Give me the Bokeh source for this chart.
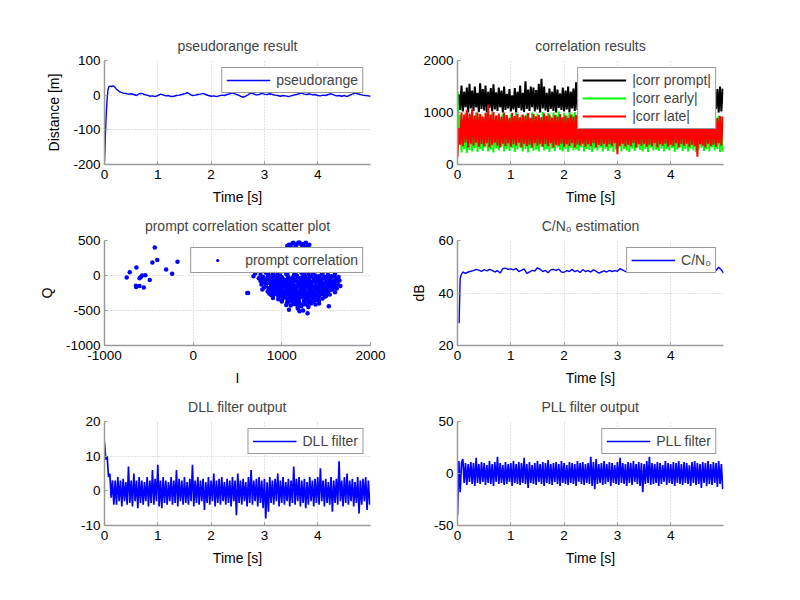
import numpy as np
from bokeh.plotting import figure
from bokeh.layouts import column, row
from bokeh.models import Range1d, FixedTicker, Legend, LegendItem
from bokeh.embed import file_html
from bokeh.resources import INLINE

# ---------------- data ----------------
time_ticks = [0, 1, 2, 3, 4]

pr_t = [0.000, 0.010, 0.020, 0.035, 0.050, 0.065, 0.080, 0.100, 0.130, 0.160, 0.190, 0.220, 0.250, 0.280,
        0.310, 0.350, 0.400, 0.450, 0.500, 0.550, 0.600, 0.650, 0.700, 0.750, 0.800, 0.850, 0.900, 0.950,
        1.000, 1.050, 1.100, 1.150, 1.200, 1.250, 1.300, 1.350, 1.400, 1.450, 1.500, 1.550, 1.600, 1.650,
        1.700, 1.750, 1.800, 1.850, 1.900, 1.950, 2.000, 2.050, 2.100, 2.150, 2.200, 2.250, 2.300, 2.350,
        2.400, 2.450, 2.500, 2.550, 2.600, 2.650, 2.700, 2.750, 2.800, 2.850, 2.900, 2.950, 3.000, 3.050,
        3.100, 3.150, 3.200, 3.250, 3.300, 3.350, 3.400, 3.450, 3.500, 3.550, 3.600, 3.650, 3.700, 3.750,
        3.800, 3.850, 3.900, 3.950, 4.000, 4.050, 4.100, 4.150, 4.200, 4.250, 4.300, 4.350, 4.400, 4.450,
        4.500, 4.550, 4.600, 4.650, 4.700, 4.750, 4.800, 4.850, 4.900, 4.950, 4.990]
pr_val = [-190, -150, -100, -50, -10, 15, 24, 26, 25, 27, 24, 18, 14, 10,
          8, 6, 5, 3, 4, 2, -1, 4, 5, 2, 0, -3, -2, -4,
          -1, 3, 1, -2, -1, -4, -3, -1, 0, 2, 4, 7, 3, -1,
          0, 2, 3, 5, 2, -1, -3, -2, -4, -2, 0, -1, 2, 4,
          7, 4, 1, -3, -6, -3, 2, 6, 4, 1, 2, 5, 3, 2,
          4, 2, 0, -1, -3, -1, -2, -4, -2, 0, 2, 4, 6, 3,
          2, 4, 1, 2, -1, -2, 0, -1, 2, 4, 1, -2, -1, -3,
          -1, -4, 0, 3, 6, 4, 2, 0, -1, -2, -3]

# noisy channels sampled every 25 ms (200 samples)
noise_dt = 0.025

corr_prompt = [
    1000, 1350, 1050, 1520, 1020, 1400, 1100, 1480, 1000, 1550,
    1080, 1420, 1030, 1500, 1100, 1380, 1010, 1560, 1070, 1450,
    1040, 1520, 1000, 1400, 1090, 1470, 1020, 1540, 1060, 1390,
    1030, 1480, 1100, 1420, 1000, 1500, 1050, 1360, 1080, 1450,
    1020, 1330, 1060, 1470, 1000, 1400, 1090, 1520, 1040, 1380,
    1010, 1600, 1070, 1440, 1030, 1500, 1100, 1480, 1020, 1430,
    1060, 1550, 1000, 1650, 1080, 1500, 1040, 1380, 1010, 1460,
    1070, 1400, 1030, 1520, 1000, 1440, 1090, 1370, 1050, 1480,
    1020, 1420, 1060, 1500, 1000, 1400, 1080, 1460, 1030, 1580,
    1050, 1440, 1010, 1520, 1070, 1390, 1000, 1470, 1040, 1430,
    1020, 1480, 1060, 1410, 1000, 1530, 1080, 1450, 1030, 1390,
    1050, 1500, 1010, 1430, 1070, 1470, 1000, 1400, 1040, 1520,
    1020, 1440, 1060, 1380, 1000, 1490, 1080, 1420, 1030, 1460,
    1050, 1400, 1010, 1510, 1070, 1450, 1000, 1380, 1040, 1480,
    1020, 1420, 1060, 1500, 1000, 1440, 1080, 1390, 1030, 1470,
    1050, 1530, 1010, 1410, 1070, 1460, 1000, 1400, 1040, 1500,
    1020, 1440, 1060, 1380, 1000, 1480, 1080, 1420, 1030, 1450,
    1050, 1510, 1010, 1400, 1070, 1460, 1000, 1390, 1040, 1480,
    1020, 1430, 1060, 1500, 1000, 1410, 1080, 1470, 1030, 1440,
    1050, 1400, 1010, 1490, 1070, 1450, 1000, 1500, 1020, 1460]

corr_early = [
    1400, 600, 950, 230, 880, 300, 990, 220, 900, 280,
    960, 250, 870, 320, 1000, 240, 910, 300, 950, 260,
    880, 330, 970, 250, 900, 290, 1000, 230, 860, 310,
    940, 270, 890, 340, 980, 250, 920, 300, 870, 260,
    960, 320, 900, 240, 990, 290, 880, 330, 950, 250,
    910, 300, 970, 230, 880, 320, 1000, 260, 930, 290,
    980, 250, 900, 340, 1010, 270, 940, 300, 990, 240,
    920, 310, 1000, 260, 950, 330, 1020, 280, 900, 250,
    990, 300, 940, 240, 1000, 320, 960, 270, 1010, 290,
    950, 260, 990, 330, 930, 250, 1000, 300, 960, 280,
    1000, 240, 920, 310, 980, 270, 900, 330, 950, 250,
    890, 300, 960, 260, 910, 320, 970, 240, 880, 290,
    940, 330, 900, 250, 970, 300, 880, 270, 950, 240,
    910, 310, 960, 260, 890, 320, 940, 280, 900, 250,
    950, 300, 880, 240, 960, 330, 910, 270, 940, 290,
    890, 260, 950, 310, 900, 250, 960, 300, 880, 270,
    940, 320, 910, 240, 950, 290, 890, 330, 960, 260,
    900, 300, 940, 250, 880, 310, 950, 270, 910, 240,
    960, 290, 890, 320, 940, 260, 900, 300, 950, 250,
    910, 330, 960, 270, 890, 300, 940, 240, 920, 250]

corr_late = [
    150, 700, 380, 1000, 350, 960, 420, 1050, 330, 980,
    400, 1060, 360, 940, 420, 1000, 340, 970, 390, 920,
    350, 990, 410, 1150, 330, 960, 380, 1010, 420, 940,
    360, 980, 330, 920, 400, 1000, 350, 950, 410, 900,
    340, 990, 390, 930, 360, 970, 420, 910, 330, 960,
    400, 940, 350, 990, 380, 900, 330, 970, 410, 920,
    360, 950, 400, 910, 340, 980, 390, 930, 350, 960,
    410, 900, 330, 950, 380, 920, 360, 970, 400, 910,
    340, 940, 390, 900, 350, 960, 410, 920, 330, 950,
    380, 910, 360, 940, 400, 900, 340, 930, 390, 960,
    350, 920, 410, 890, 330, 950, 380, 910, 360, 940,
    400, 900, 340, 930, 390, 880, 350, 920, 410, 950,
    200, 910, 360, 940, 400, 890, 340, 930, 380, 900,
    350, 950, 410, 910, 330, 940, 390, 900, 360, 930,
    400, 890, 340, 920, 380, 950, 350, 910, 410, 940,
    330, 900, 390, 930, 360, 890, 400, 950, 340, 920,
    380, 910, 350, 940, 410, 900, 330, 930, 390, 960,
    360, 920, 400, 890, 340, 950, 380, 910, 350, 940,
    150, 930, 390, 900, 360, 940, 330, 920, 400, 950,
    350, 910, 380, 940, 340, 900, 410, 930, 360, 920]

dll_out = [
    14, 9, 10, 4, 5, -2, 3, -4,
    3, -4, 4, -3, 3, -4.5, 3.5, -3, 2.5, -4, 7, -3.5, 3, -4.5, 5, -3, 3, -5, 4, -3.5,
    3, -4, 2.5, -3, 4, -4.5, 3, -3.5, 6, -4, 3.5, -3, 7.5, -4.5, 3, -5, 4, -3.5, 3, -4,
    2.5, -3, 4, -4, 3, -3.5, 6, -4.5, 3.5, -3, 3, -4, 4, -3.5, 2.5, -4, 3.5, -3, 7.5, -4.5,
    3, -3.5, 4, -4, 3, -3, 3.5, -5.5, 2.5, -3.5, 4, -4, 3, -3, 5, -4.5, 3, -3.5, 3.5, -4,
    4, -3, 2.5, -4, 3.5, -3.5, 3, -4.5, 4, -3, 3, -7, 5, -3.5, 3, -4, 3.5, -3, 2.5, -4.5,
    4, -3.5, 6, -4, 3, -3, 3.5, -4.5, 4, -3.5, 3, -5, 3.5, -8, 2.5, -6, 4, -3.5, 3, -4,
    3.5, -3, 5, -4.5, 3, -3.5, 4, -4, 2.5, -3, 3.5, -4.5, 3, -3.5, 7, -4, 3.5, -3, 4, -4.5,
    3, -3.5, 3.5, -5, 2.5, -4, 4, -3, 3, -4.5, 3.5, -3.5, 4, -4, 6.5, -3, 3, -4.5, 3.5, -3.5,
    2.5, -4, 4, -6, 3, -3.5, 3.5, -4, 8.5, -3, 3, -4.5, 4, -3.5, 5, -4, 3, -3, 3.5, -4.5,
    2.5, -3.5, 4, -6.5, 3, -4, 3.5, -3, 4, -5.5, 3, -4]

pll_out = [
    -40, 12, -18, 10,
    14, -9, 10, -11, 9, -8, 11, -10, 10, -12, 15, -9, 9, -10, 11, -8, 10, -11, 8, -9,
    12, -10, 9, -12, 11, -8, 16, -10, 10, -9, 8, -11, 11, -10, 9, -8, 10, -12, 12, -9,
    9, -10, 11, -11, 10, -9, 15, -10, 9, -14, 11, -9, 8, -10, 10, -11, 12, -8, 9, -10,
    11, -12, 10, -9, 13, -10, 9, -11, 10, -8, 11, -10, 9, -12, 12, -9, 10, -10, 8, -11,
    11, -9, 10, -10, 9, -12, 12, -8, 10, -10, 11, -11, 9, -9, 10, -10, 16, -12, 11, -15,
    14, -10, 9, -9, 10, -11, 12, -10, 9, -8, 11, -12, 10, -9, 8, -10, 11, -11, 15, -9,
    10, -10, 9, -12, 11, -9, 10, -11, 12, -8, 9, -10, 11, -12, 10, -18, 9, -10, 12, -9,
    16, -11, 10, -10, 9, -9, 11, -12, 10, -10, 8, -8, 12, -11, 10, -9, 9, -10, 11, -12,
    10, -9, 12, -10, 9, -11, 11, -9, 10, -10, 8, -12, 11, -9, 12, -11, 10, -10, 9, -14,
    11, -9, 10, -12, 12, -10, 9, -11, 11, -9, 10, -13, 12, -10, 9, -15]

cn0_t = [0.03, 0.05, 0.07, 0.10, 0.15, 0.20, 0.25, 0.30, 0.35, 0.40, 0.45, 0.50, 0.55, 0.60, 0.65,
         0.70, 0.75, 0.80, 0.85, 0.90, 0.95, 1.00, 1.05, 1.10, 1.15, 1.20, 1.25, 1.30, 1.35, 1.40,
         1.45, 1.50, 1.55, 1.60, 1.65, 1.70, 1.75, 1.80, 1.85, 1.90, 1.95, 2.00, 2.05, 2.10, 2.15,
         2.20, 2.25, 2.30, 2.35, 2.40, 2.45, 2.50, 2.55, 2.60, 2.65, 2.70, 2.75, 2.80, 2.85, 2.90,
         2.95, 3.00, 3.05, 3.10, 3.15, 3.20, 3.25, 3.30, 3.35, 3.40, 3.45, 3.50, 3.55, 3.60, 3.65,
         3.70, 3.75, 3.80, 3.85, 3.90, 3.95, 4.00, 4.05, 4.10, 4.15, 4.20, 4.25, 4.30, 4.35, 4.40,
         4.45, 4.50, 4.55, 4.60, 4.65, 4.70, 4.75, 4.80, 4.85, 4.90, 4.95, 4.99]
cn0_val = [28.5, 45.5, 47.0, 48.0, 47.5, 48.0, 48.3, 48.5, 49.0, 48.7, 48.2, 48.9, 48.4, 49.0, 48.6,
           48.0, 48.5, 47.6, 49.3, 49.5, 49.0, 49.2, 48.8, 49.3, 48.2, 48.6, 49.2, 47.5, 48.0, 48.6,
           48.4, 49.6, 49.0, 48.2, 48.6, 47.7, 48.8, 49.0, 48.6, 49.1, 48.0, 47.9, 48.5, 48.2, 49.0,
           48.1, 48.6, 47.8, 48.9, 48.2, 48.5, 48.0, 48.8, 48.3, 47.6, 48.0, 48.4, 48.0, 48.6, 48.2,
           48.5, 48.3, 49.3, 48.7, 48.2, 48.0, 48.5, 48.8, 48.2, 48.6, 49.0, 48.3, 48.7, 48.1, 48.5,
           49.0, 48.4, 48.2, 48.8, 48.5, 48.0, 48.6, 49.1, 48.4, 48.0, 48.7, 48.3, 48.9, 48.5, 48.1,
           48.6, 48.9, 48.2, 48.5, 48.0, 48.7, 48.4, 48.2, 48.6, 49.8, 48.8, 47.6]

# prompt correlation I/Q points
iq_I = [-750, -715, -640, -645, -643, -605, -557, -605, -575, -590, -538, -490, -433, -460, -405, -305, -237, -177,
        610,
        1130, 1170, 1220, 1290, 1100, 1250, 1150, 1190, 1080, 1120, 1160, 1200, 1240, 1270, 1310, 1060,
        1000, 1100, 1200, 1300, 1400, 1050, 1250,
        900, 1000, 1100, 1200, 1300, 1400, 1500, 950, 1150, 1350,
        850, 950, 1050, 1150, 1250, 1350, 1450, 1550, 1000, 1300,
        700, 760, 820, 900, 980, 1060, 1140, 1220, 1300, 1380, 1460, 1520, 1560, 1600,
        740, 790, 850, 910, 960, 1010, 1070, 1120, 1170, 1230, 1280, 1330, 1390, 1440, 1490, 1540, 1590, 1620, 680,
        760, 810, 860, 900, 950, 1000, 1040, 1090, 1130, 1180, 1220, 1260, 1310, 1350, 1400, 1450, 1500, 1550, 1600, 1650,
        770, 830, 880, 930, 980, 1030, 1070, 1110, 1150, 1200, 1240, 1290, 1330, 1380, 1420, 1470, 1520, 1570, 1630, 1660,
        800, 850, 900, 950, 1000, 1050, 1090, 1130, 1170, 1210, 1250, 1300, 1340, 1390, 1430, 1480, 1530, 1580, 1620,
        620, 840, 890, 940, 990, 1040, 1080, 1120, 1160, 1200, 1240, 1280, 1320, 1360, 1410, 1450, 1500, 1550, 1600,
        880, 930, 980, 1030, 1070, 1110, 1150, 1190, 1230, 1270, 1310, 1350, 1400, 1450, 1500, 1540,
        900, 960, 1010, 1060, 1100, 1140, 1180, 1220, 1260, 1300, 1350, 1400, 1460,
        1000, 1060, 1110, 1160, 1200, 1250, 1300, 1360, 1420,
        1050, 1150, 1220, 1290, 1380, 1530,
        1080, 1180, 1240, 1290, 1200,
        880, 930, 990, 1040, 1100, 1160, 1210, 1270, 1320, 1370, 1420, 1470, 1510, 1460, 1410, 1360, 1300, 1240, 1190,
        1140, 1080, 1020, 970, 920, 870, 1000, 1060, 1120, 1170, 1230, 1280, 1330, 1380, 1430, 1480, 1540, 1580, 1530,
        1480, 1420, 1260, 1200, 1100, 1060, 950, 910, 820, 860, 780, 1150, 1350, 1250, 1050, 1000, 1300, 1400,
        820, 870, 920, 970, 1020, 1070, 1120, 840, 890, 940, 990, 1040, 1090, 1140, 1190,
        860, 910, 960, 1010, 1060, 1110, 1160, 1210, 1260, 1310, 1360, 1410, 1460, 1510, 1560, 1590, 1550, 1500,
        1450, 1400, 1350, 1300, 1250, 1200, 1150, 1100, 1050, 1000, 950, 900, 1130, 1180, 1230, 1280, 1330, 1380,
        1430, 1480, 1520, 1250, 1150, 1050, 950, 850, 1350, 1450, 1180, 1220, 1270, 1320, 1120, 1080, 1030, 980,
        930, 1170, 1210, 1260, 1310, 1370, 1420, 1470, 1520, 1470, 1420, 1370, 1130, 1190, 1250, 1330, 1000, 1080,
        1260, 1340, 1400, 960, 900, 860, 1570, 1610, 800, 780, 1620, 1640, 1100, 1180, 1300, 1420, 1490, 1520]
iq_Q = [-30, 45, 115, -145, -165, -150, -170, -40, 0, -20, 5, -65, 400, 185, 220, 85, 25, 195,
        -250,
        470, 450, 440, 430, 420, 410, 405, 480, 440, 460, 430, 470, 450, 470, 440, 420,
        350, 330, 360, 320, 300, 300, 380,
        200, 250, 220, 270, 240, 210, 180, 160, 180, 170,
        100, 120, 80, 130, 90, 140, 100, 70, 60, 60,
        30, 10, 40, 20, 0, 30, 10, 40, 20, 0, 30, 10, -10, 20,
        -40, -20, -50, -10, -30, -45, -15, -35, -5, -25, -45, -10, -30, -50, -20, -40, -15, -45, -10,
        -80, -60, -95, -70, -85, -55, -90, -65, -100, -75, -60, -95, -70, -85, -55, -90, -65, -80, -100, -70,
        -130, -110, -145, -120, -140, -105, -135, -115, -150, -125, -105, -140, -120, -145, -110, -135, -115, -140, -120, -150,
        -170, -190, -160, -185, -165, -195, -170, -180, -160, -190, -170, -185, -160, -195, -175, -160, -190, -170, -185,
        -250, -230, -210, -240, -220, -245, -215, -235, -205, -240, -220, -250, -210, -235, -215, -245, -225, -205, -240,
        -280, -260, -290, -270, -255, -295, -265, -285, -260, -290, -270, -255, -285, -265, -290, -270,
        -320, -340, -310, -335, -315, -345, -325, -305, -340, -320, -335, -310, -330,
        -370, -390, -360, -380, -395, -365, -385, -370, -360,
        -420, -410, -440, -430, -415, -440,
        -490, -470, -500, -540, -510,
        -30, -60, -95, -125, -160, -190, -215, -230, -250, -200, -170, -210, -150, -120, -80, -50, -100, -140, -110,
        -60, -40, -110, -160, -200, -240, -210, -230, -270, -300, -280, -310, -290, -260, -230, -190, -160, -110, -60,
        -30, -10, -10, -40, -90, -140, -120, -100, -150, -180, -200, -230, -160, -200, -300, -250, -350, -330,
        -60, -110, -160, -210, -260, -310, -350, -20, -70, -130, -180, -230, -280, -320, -355,
        -200, -250, -300, -330, -200, -240, -270, -310, -330, -300, -280, -250, -220, -190, -130, -70, -30, -100,
        -150, -190, -230, -260, -280, -300, -160, -190, -60, -20, -40, -140, -20, -50, -80, -120, -150, -110,
        -70, -40, -10, 20, 30, 20, 15, 10, 25, 15, -250, -180, -160, -190, -130, -100, -160, -70,
        -20, -90, -140, -50, -30, -70, -130, -170, -220, -260, -300, -320, -400, -420, -410, -400, -360, -370,
        -380, -360, -350, -260, -290, -260, -200, -150, -100, -40, -80, -20, -430, -450, -450, -400, -300, -260]

# ---------------- styling helpers ----------------
FONT = "Liberation Sans"
AXIS_GREY = "#9a9a9a"
BLUE = "#0000ff"


def make_fig(title, xr, yr, xticks, yticks, xlabel, ylabel, left, right, top, bottom, fh):
    p = figure(frame_width=266, frame_height=fh,
               min_border_left=left, min_border_right=right,
               min_border_top=top, min_border_bottom=bottom,
               x_range=Range1d(*xr), y_range=Range1d(*yr),
               output_backend="svg", toolbar_location=None, title=title)
    p.outline_line_color = None
    p.background_fill_color = "white"
    p.border_fill_color = "white"
    p.title.text_font = FONT
    p.title.text_font_size = "14px"
    p.title.text_font_style = "normal"
    p.title.align = "center"
    p.title.standoff = 13
    p.xaxis.ticker = FixedTicker(ticks=xticks)
    p.yaxis.ticker = FixedTicker(ticks=yticks)
    p.xaxis.major_label_overrides = {v: str(v) for v in xticks}
    p.yaxis.major_label_overrides = {v: str(v) for v in yticks}
    for ax in (p.xaxis, p.yaxis):
        ax.axis_line_color = AXIS_GREY
        ax.axis_line_width = 1.5
        ax.major_tick_line_color = AXIS_GREY
        ax.major_tick_in = 3
        ax.major_tick_out = 0
        ax.minor_tick_line_color = None
        ax.major_label_text_font = FONT
        ax.major_label_text_font_size = "13.5px"
        ax.major_label_text_color = "black"
        ax.axis_label_text_font = FONT
        ax.axis_label_text_font_size = "14px"
        ax.axis_label_text_font_style = "normal"
        ax.axis_label_text_color = "black"
    p.xaxis.major_label_standoff = 5
    p.yaxis.major_label_standoff = 4
    p.xaxis.axis_label_standoff = 7
    p.yaxis.axis_label_standoff = 8
    if xlabel:
        p.xaxis.axis_label = xlabel
    if ylabel:
        p.yaxis.axis_label = ylabel
    for g in (p.xgrid, p.ygrid):
        g.grid_line_color = "#c4c4c4"
        g.grid_line_dash = "1 2"
        g.grid_line_width = 1
    p.xgrid.ticker = FixedTicker(ticks=xticks)
    p.ygrid.ticker = FixedTicker(ticks=yticks)
    return p


def add_legend(p, items, glyph_h=16):
    leg = Legend(items=[LegendItem(label=l, renderers=[r]) for l, r in items],
                 location="top_right", margin=7, padding=4, spacing=2,
                 glyph_width=44, glyph_height=glyph_h, label_height=16, label_standoff=6,
                 label_text_font=FONT, label_text_font_size="14px",
                 border_line_color="#333333", border_line_width=1,
                 background_fill_color="white", background_fill_alpha=1.0)
    p.add_layout(leg, "center")


t_noise = np.arange(len(dll_out)) * noise_dt
XR = (0, 4.99)

L_LEFT, L_RIGHT = 104, 30
R_LEFT, R_RIGHT = 57, 69

# Row 1
p1 = make_fig("pseudorange result", XR, (-200, 100), time_ticks, [-200, -100, 0, 100],
              "Time [s]", "Distance [m]", L_LEFT, L_RIGHT, 60, 42, 104)
r1 = p1.line(pr_t, pr_val, line_color=BLUE, line_width=1.4)
add_legend(p1, [("pseudorange", r1)])

p2 = make_fig("correlation results", XR, (0, 2000), time_ticks, [0, 1000, 2000],
              "Time [s]", None, R_LEFT, R_RIGHT, 60, 42, 104)
rp = p2.line(t_noise, corr_prompt, line_color="black", line_width=2)
re = p2.line(t_noise, corr_early, line_color="#00ff00", line_width=2)
rl = p2.line(t_noise, corr_late, line_color="#ff0000", line_width=2)
add_legend(p2, [("|corr prompt|", rp), ("|corr early|", re), ("|corr late|", rl)])

# Row 2
p3 = make_fig("prompt correlation scatter plot", (-1000, 2000), (-1000, 500), [-1000, 0, 1000, 2000],
              [-1000, -500, 0, 500], "I", "Q", L_LEFT, L_RIGHT, 33, 42, 105)
rs = p3.scatter(iq_I, iq_Q, marker="circle", size=4.5, fill_color=BLUE, line_color=None)
add_legend(p3, [("prompt correlation", rs)], glyph_h=8)

p4 = make_fig("C/N\u2080 estimation", XR, (20, 60), time_ticks, [20, 40, 60],
              "Time [s]", "dB", R_LEFT, R_RIGHT, 33, 42, 105)
rc = p4.line(cn0_t, cn0_val, line_color=BLUE, line_width=1.4)
add_legend(p4, [("C/N\u2080", rc)])

# Row 3
p5 = make_fig("DLL filter output", XR, (-10, 20), time_ticks, [-10, 0, 10, 20],
              "Time [s]", None, L_LEFT, L_RIGHT, 33, 42, 104)
rd = p5.line(t_noise, dll_out, line_color=BLUE, line_width=1.7)
add_legend(p5, [("DLL filter", rd)])

p6 = make_fig("PLL filter output", XR, (-50, 50), time_ticks, [-50, 0, 50],
              "Time [s]", None, R_LEFT, R_RIGHT, 33, 42, 104)
rpl = p6.line(t_noise, pll_out, line_color=BLUE, line_width=1.7)
add_legend(p6, [("PLL filter", rpl)])

layout = column(row(p1, p2), row(p3, p4), row(p5, p6))

open("out.html", "w").write(file_html(layout, INLINE))
